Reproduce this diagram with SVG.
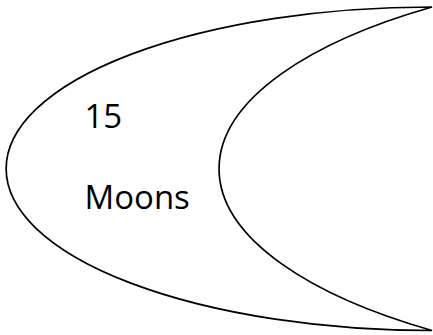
<svg xmlns="http://www.w3.org/2000/svg" width="433" height="335" viewBox="0 0 433 335">
<style>
.shape{fill:#ffffff;stroke:#000000;stroke-width:1.7;stroke-linejoin:miter}
.lbl{font-family:"Open Sans","Liberation Sans",sans-serif;font-size:33px;fill:#000000}
</style>
<rect width="433" height="335" fill="#ffffff"/>
<g id="moon">
<path class="shape" d="M432,330.5 A426,161.75 0 0 1 432,7 A532.5,202.2 0 0 0 432,330.5 Z"/>
<text class="lbl" x="84.5" y="127.5">15</text>
<text class="lbl" x="84.5" y="208.5">Moons</text>
</g>
</svg>
